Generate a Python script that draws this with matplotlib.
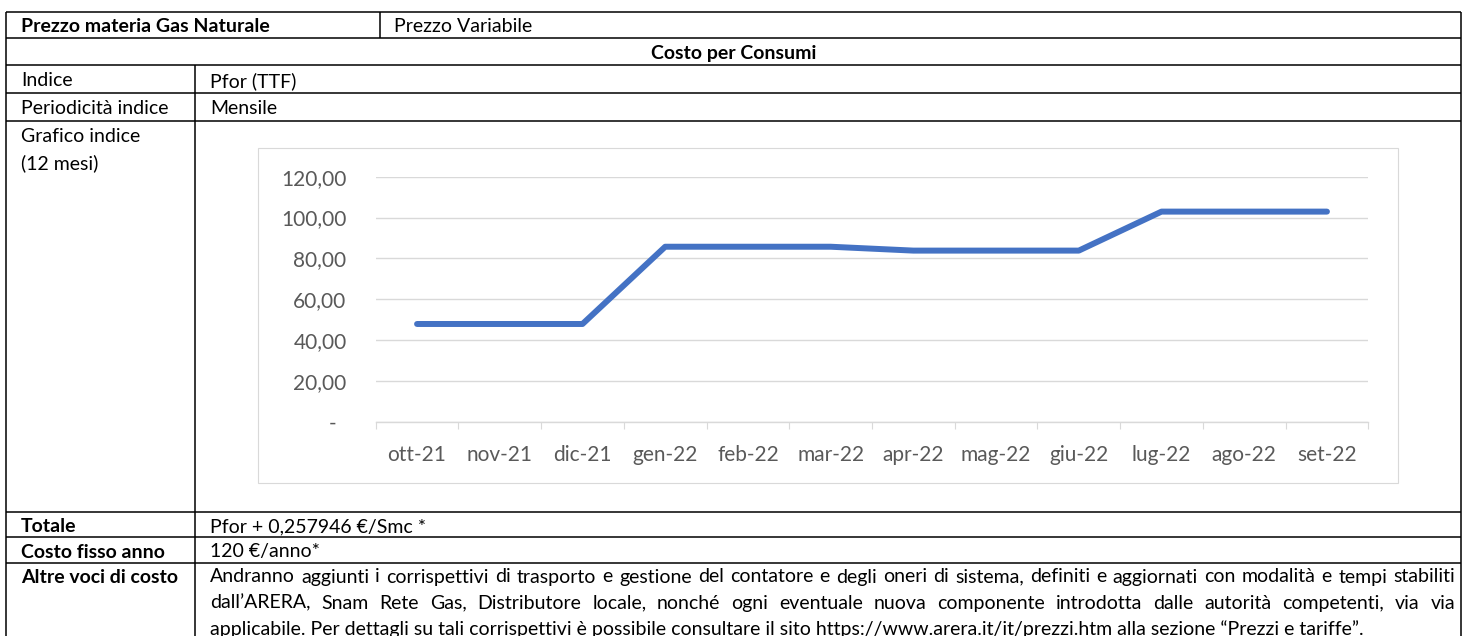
import matplotlib.pyplot as plt
from matplotlib.patches import Rectangle
from matplotlib.ticker import FuncFormatter
import matplotlib.transforms as mtransforms

plt.rcParams['font.family'] = ['Lato', 'DejaVu Sans']

# dati del grafico (Pfor TTF, ultimi 12 mesi)
mesi = ['ott-21', 'nov-21', 'dic-21', 'gen-22', 'feb-22', 'mar-22',
        'apr-22', 'mag-22', 'giu-22', 'lug-22', 'ago-22', 'set-22']
pfor = [47.86, 47.86, 47.86, 85.70, 85.70, 85.70,
        83.80, 83.80, 83.80, 102.90, 102.90, 102.90]
y_ticks = [0, 20, 40, 60, 80, 100, 120]

# testi della tabella
intestazione = ('Prezzo materia Gas Naturale', 'Prezzo Variabile')
sezione = 'Costo per Consumi'
righe_sopra = [('Indice', 'Pfor (TTF)'), ('Periodicità indice', 'Mensile')]
grafico_label = ['Grafico indice', '(12 mesi)']
righe_sotto = [('Totale', 'Pfor + 0,257946 €/Smc *'), ('Costo fisso anno', '120 €/anno*')]
altre_label = 'Altre voci di costo'
altre_testo = [
    'Andranno aggiunti i corrispettivi di trasporto e gestione del contatore e degli oneri di sistema, definiti e aggiornati con modalità e tempi stabiliti',
    'dall’ARERA, Snam Rete Gas, Distributore locale, nonché ogni eventuale nuova componente introdotta dalle autorità competenti, via via',
    'applicabile. Per dettagli su tali corrispettivi è possibile consultare il sito https://www.arera.it/it/prezzi.htm alla sezione “Prezzi e tariffe”.',
]

W, H = 1468, 636
fig = plt.figure(figsize=(W / 100, H / 100), dpi=100)
ax = fig.add_axes([0, 0, 1, 1])
ax.set_xlim(0, W)
ax.set_ylim(H, 0)
ax.axis('off')

# geometria tabella (pixel)
X0, X1, XC, XH = 6, 1461, 195, 380
ys = [12, 38, 65, 93, 121, 512, 537, 563]
PAD = 15
FS = 14
DY = 2  # il testo sta un filo sotto il centro della riga
lw_tab = 1.1

ax.hlines(ys, X0, X1, color='black', lw=lw_tab)
ax.vlines([X0, X1], ys[0], H + 5, color='black', lw=lw_tab)
ax.vlines(XH, ys[0], ys[1], color='black', lw=lw_tab)
ax.vlines(XC, ys[2], H + 5, color='black', lw=lw_tab)


def mid(a, b):
    return (a + b) / 2 + DY


ax.text(X0 + PAD, mid(ys[0], ys[1]), intestazione[0], fontsize=FS, fontweight='bold', va='center')
ax.text(XH + PAD - 1, mid(ys[0], ys[1]), intestazione[1], fontsize=FS, va='center')
ax.text((X0 + X1) / 2, mid(ys[1], ys[2]), sezione, fontsize=FS, fontweight='bold', va='center', ha='center')
for i, (a, b) in enumerate(righe_sopra):
    yc = mid(ys[2 + i], ys[3 + i])
    ax.text(X0 + PAD, yc, a, fontsize=FS, va='center')
    ax.text(XC + PAD, yc, b, fontsize=FS, va='center')
for i, t in enumerate(grafico_label):
    ax.text(X0 + PAD, ys[4] + 14 + DY + 26.5 * i, t, fontsize=FS, va='center')
for i, (a, b) in enumerate(righe_sotto):
    yc = mid(ys[5 + i], ys[6 + i])
    ax.text(X0 + PAD, yc, a, fontsize=FS, fontweight='bold', va='center')
    ax.text(XC + PAD, yc, b, fontsize=FS, va='center')

# paragrafo giustificato (l'ultima riga esce dal bordo come nell'originale)
PY = ys[7] + 14.5
ax.text(X0 + PAD, PY, altre_label, fontsize=FS, fontweight='bold', va='center')
renderer = fig.canvas.get_renderer()
tx0, tx1 = XC + PAD, X1 - 6
prova = ax.text(0, 0, altre_testo[0], fontsize=FS)
w_nat = prova.get_window_extent(renderer).width
prova.remove()
fs_par = min(FS, FS * (tx1 - tx0) / w_nat * 0.995)
for k, riga in enumerate(altre_testo):
    yb = PY + 5 + 26.2 * k  # linea di base
    if k == len(altre_testo) - 1:
        ax.text(tx0, yb, riga, fontsize=fs_par, va='baseline')
        continue
    parole = riga.split(' ')
    tt = [ax.text(0, yb, p, fontsize=fs_par, va='baseline') for p in parole]
    larg = [t.get_window_extent(renderer).width for t in tt]
    gap = (tx1 - tx0 - sum(larg)) / (len(parole) - 1)
    x = tx0
    for t, w in zip(tt, larg):
        t.set_x(x)
        x += w + gap

# cornice del grafico
ax.add_patch(Rectangle((258, 148), 1140, 335, fc='white', ec='#d9d9d9', lw=0.8, zorder=1))

# grafico
cax = fig.add_axes([375.7 / W, (H - 421.7) / H, (1368.3 - 375.7) / W, 245 / H])
cax.patch.set_visible(False)
xs = range(len(mesi))
cax.plot(xs, pfor, color='#4472C4', lw=4.3, solid_capstyle='round', solid_joinstyle='round', zorder=3)
cax.set_xlim(-0.5, len(mesi) - 0.5)
cax.set_ylim(0, 120)
cax.set_yticks(y_ticks)
cax.yaxis.set_major_formatter(FuncFormatter(lambda v, p: '-' if v == 0 else f'{v:.2f}'.replace('.', ',')))
cax.set_xticks(list(xs))
cax.set_xticklabels(mesi)
cax.set_xticks([i - 0.5 for i in range(len(mesi) + 1)], minor=True)
cax.tick_params(axis='x', which='major', length=0, pad=16.5, labelsize=15, labelcolor='#595959')
cax.tick_params(axis='x', which='minor', length=5, width=0.8, color='#d9d9d9')
cax.tick_params(axis='y', length=0, pad=21, labelsize=15, labelcolor='#595959')
cax.grid(axis='y', color='#d9d9d9', lw=1)
cax.set_axisbelow(True)
for s in ['top', 'right', 'left']:
    cax.spines[s].set_visible(False)
cax.spines['bottom'].set_color('#d9d9d9')
cax.spines['bottom'].set_linewidth(1)

# il trattino dello zero sta un po' a sinistra (formato contabile)
t0 = cax.yaxis.get_major_ticks()[0].label1
t0.set_transform(t0.get_transform() + mtransforms.ScaledTranslation(-0.105, 0, fig.dpi_scale_trans))

fig.savefig('out.png', dpi=100)
